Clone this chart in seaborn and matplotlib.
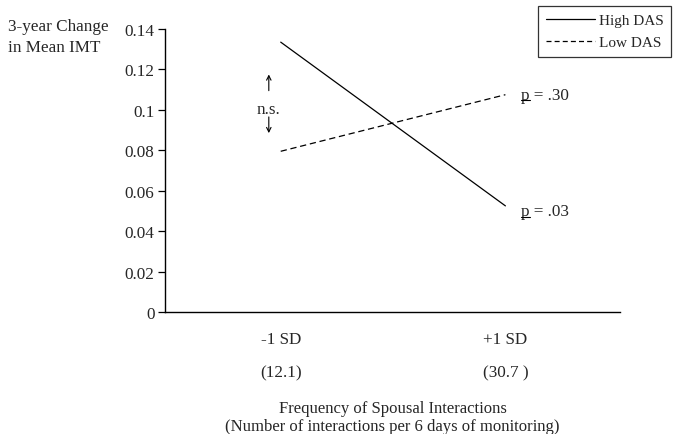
import matplotlib
matplotlib.use("Agg")
import matplotlib.pyplot as plt
import seaborn as sns
import pandas as pd
from matplotlib.lines import Line2D

# ---- data ----
x_positions = [0, 1]
x_tick_labels = ["-1 SD\n\n(12.1)", "+1 SD\n\n(30.7 )"]
groups = ["High DAS", "Low DAS"]
high_das = [0.1335, 0.0525]
low_das = [0.0795, 0.1075]
p_labels = [".03", ".30"]
y_ticks = [0, 0.02, 0.04, 0.06, 0.08, 0.1, 0.12, 0.14]
y_tick_labels = ["0", "0.02", "0.04", "0.06", "0.08", "0.1", "0.12", "0.14"]

df = pd.DataFrame({
    "x": x_positions * 2,
    "value": high_das + low_das,
    "group": [groups[0]] * 2 + [groups[1]] * 2,
})

sns.set_theme(style="ticks")
plt.rcParams["font.family"] = ["Liberation Serif", "DejaVu Serif"]

FS = 12.3

fig = plt.figure(figsize=(6.74, 4.35), dpi=100)
ax = fig.add_axes([165 / 674, 1 - 313 / 435, (620 - 165) / 674, (313 - 30) / 435])

sns.lineplot(data=df, x="x", y="value", style="group", style_order=groups,
             dashes={groups[0]: "", groups[1]: (5, 3)}, color="black",
             linewidth=0.9, ax=ax, legend=False)

ax.set_xlim(-0.515, 1.51)
ax.set_ylim(0, 0.14)
ax.set_yticks(y_ticks)
ax.set_yticklabels(y_tick_labels, fontsize=FS)
ax.set_xticks(x_positions)
ax.set_xticklabels(x_tick_labels, fontsize=FS, linespacing=1.02)
ax.tick_params(axis="x", length=0, pad=14)
ax.tick_params(axis="y", length=5, width=0.9, direction="out", pad=2.5, color="black")
for s in ["top", "right"]:
    ax.spines[s].set_visible(False)
for s in ["left", "bottom"]:
    ax.spines[s].set_color("black")
    ax.spines[s].set_linewidth(1.0)
ax.set_xlabel("Frequency of Spousal Interactions\n(Number of interactions per 6 days of monitoring)",
              fontsize=12, linespacing=1.2, labelpad=14.5)
ax.set_ylabel("")

fig.text(8 / 674, 1 - 19 / 435, "3-year Change\nin Mean IMT", fontsize=FS,
         ha="left", va="top", linespacing=1.45)

# p labels with underlined p
fig.canvas.draw()
renderer = fig.canvas.get_renderer()
for yv, lab in [(high_das[1], p_labels[0]), (low_das[1], p_labels[1])]:
    off = -0.0025 if yv < 0.08 else 0.0
    t = ax.text(1.07, yv + off, "p = " + lab, fontsize=FS, ha="left", va="center")
    tp = ax.text(1.07, yv + off, "p", fontsize=FS, ha="left", va="center", alpha=0)
    fig.canvas.draw()
    bb = tp.get_window_extent(renderer)
    ybase = bb.y0 + 2.4
    fig.add_artist(Line2D([bb.x0 / fig.bbox.width, bb.x1 / fig.bbox.width],
                          [ybase / fig.bbox.height, ybase / fig.bbox.height],
                          color="black", linewidth=0.8))

# n.s. annotation with arrows
ax.text(-0.055, 0.1005, "n.s.", fontsize=FS, ha="center", va="center")
ax.annotate("", xy=(-0.053, 0.1175), xytext=(-0.053, 0.1095),
            arrowprops=dict(arrowstyle="->", color="black", lw=0.8,
                            mutation_scale=8, shrinkA=0, shrinkB=0))
ax.annotate("", xy=(-0.053, 0.0885), xytext=(-0.053, 0.0965),
            arrowprops=dict(arrowstyle="->", color="black", lw=0.8,
                            mutation_scale=8, shrinkA=0, shrinkB=0))

handles = [Line2D([], [], color="black", lw=0.9, linestyle="-"),
           Line2D([], [], color="black", lw=0.9, linestyle=(0, (4, 2.5)))]
leg = fig.legend(handles, groups, loc="upper right",
                 bbox_to_anchor=(671 / 674, 1 - 7 / 435), fontsize=11,
                 frameon=True, fancybox=False, edgecolor="black",
                 handlelength=3.2, handletextpad=0.25, borderpad=0.5,
                 labelspacing=0.55, borderaxespad=0)
leg.get_frame().set_linewidth(0.9)

fig.savefig("out.png", dpi=100)
